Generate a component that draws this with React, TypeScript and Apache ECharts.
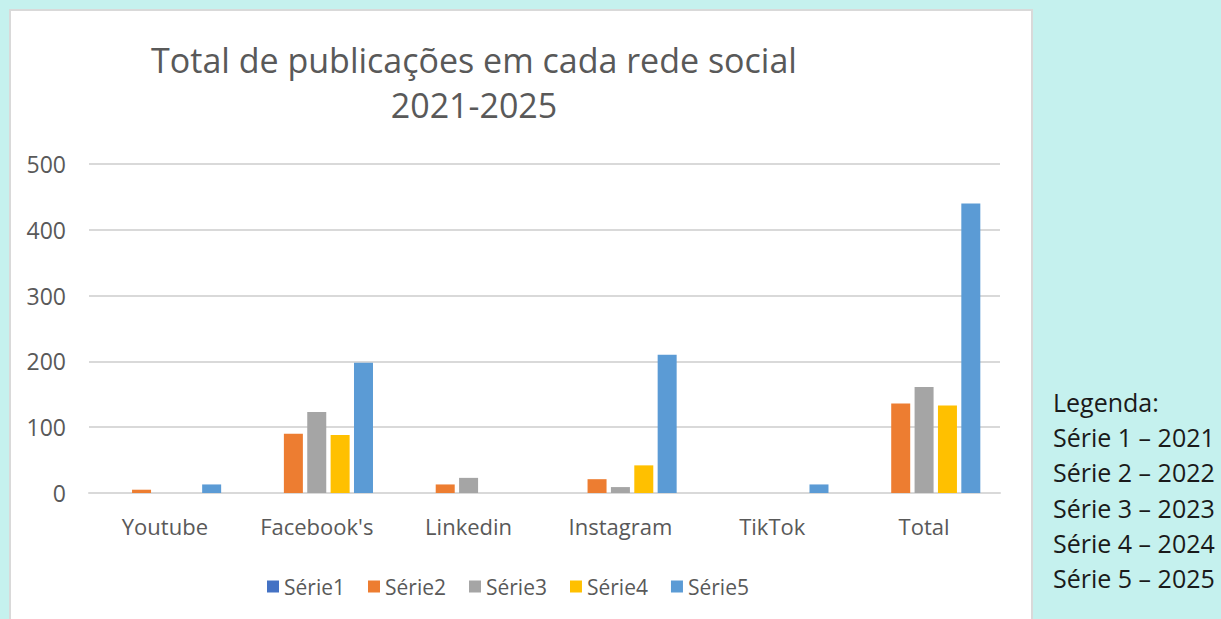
import React, { useEffect, useRef } from "react";
import * as echarts from "echarts";

const categories = ["Youtube", "Facebook's", "Linkedin", "Instagram", "TikTok", "Total"];
const serie1 = [0, 0, 0, 0, 0, 0];
const serie2 = [5, 90, 13, 21, 0, 136];
const serie3 = [0, 123, 23, 9, 0, 161];
const serie4 = [0, 88, 0, 42, 0, 133];
const serie5 = [13, 198, 0, 210, 13, 440];
const seriesNames = ["Série1", "Série2", "Série3", "Série4", "Série5"];
const seriesColors = ["#4472C4", "#ED7D31", "#A5A5A5", "#FFC000", "#5B9BD5"];
const legendLines = ["Legenda:", "Série 1 – 2021", "Série 2 – 2022", "Série 3 – 2023", "Série 4 – 2024", "Série 5 – 2025"];

const FONT = "'Open Sans', sans-serif";

export default function App() {
  const ref = useRef<HTMLDivElement>(null);
  useEffect(() => {
    if (!ref.current) return;
    const chart = echarts.init(ref.current, null, { renderer: "svg" });
    const data = [serie1, serie2, serie3, serie4, serie5];
    chart.setOption({
      animation: false,
      backgroundColor: "#C5F1EE",
      textStyle: { fontFamily: FONT },
      graphic: [
        {
          type: "rect",
          shape: { x: 10, y: 10, width: 1022, height: 640 },
          style: { fill: "#FFFFFF", stroke: "#D9D9D9", lineWidth: 2 },
          z: -10,
        },
        {
          type: "text",
          x: 474,
          y: 60,
          style: {
            text: "Total de publicações em cada rede social",
            fill: "#595959",
            font: `34px ${FONT}`,
            textAlign: "center",
            textVerticalAlign: "middle",
          },
        },
        {
          type: "text",
          x: 474,
          y: 105,
          style: {
            text: "2021-2025",
            fill: "#595959",
            font: `34px ${FONT}`,
            textAlign: "center",
            textVerticalAlign: "middle",
          },
        },
        ...legendLines.map((t, i) => ({
          type: "text",
          x: 1053,
          y: 402 + i * 35.2,
          style: {
            text: t,
            fill: "#1A1A1A",
            font: `25px ${FONT}`,
            textAlign: "left",
            textVerticalAlign: "middle",
          },
        })),
      ],
      grid: { left: 89, right: 221, top: 164, bottom: 126, containLabel: false },
      legend: {
        left: 262,
        top: 571,
        icon: "rect",
        itemWidth: 12,
        itemHeight: 12,
        itemGap: 23,
        textStyle: { color: "#595959", fontSize: 21, fontFamily: FONT },
        data: seriesNames,
      },
      xAxis: {
        type: "category",
        data: categories,
        axisLine: { show: true, lineStyle: { color: "#D9D9D9", width: 2 } },
        axisTick: { show: false },
        axisLabel: { color: "#595959", fontSize: 22, fontFamily: FONT, margin: 22 },
      },
      yAxis: {
        type: "value",
        min: 0,
        max: 500,
        interval: 100,
        axisLine: { show: false },
        axisTick: { show: false },
        axisLabel: { color: "#595959", fontSize: 23, fontFamily: FONT, margin: 23 },
        splitLine: { lineStyle: { color: "#D9D9D9", width: 2 } },
      },
      series: seriesNames.map((name, i) => ({
        name,
        type: "bar",
        data: data[i],
        barWidth: 19,
        barGap: "23%",
        itemStyle: { color: seriesColors[i] },
      })),
    });
    return () => chart.dispose();
  }, []);
  return <div ref={ref} style={{ position: "fixed", left: 0, top: 0, width: 1221, height: 619 }} />;
}
